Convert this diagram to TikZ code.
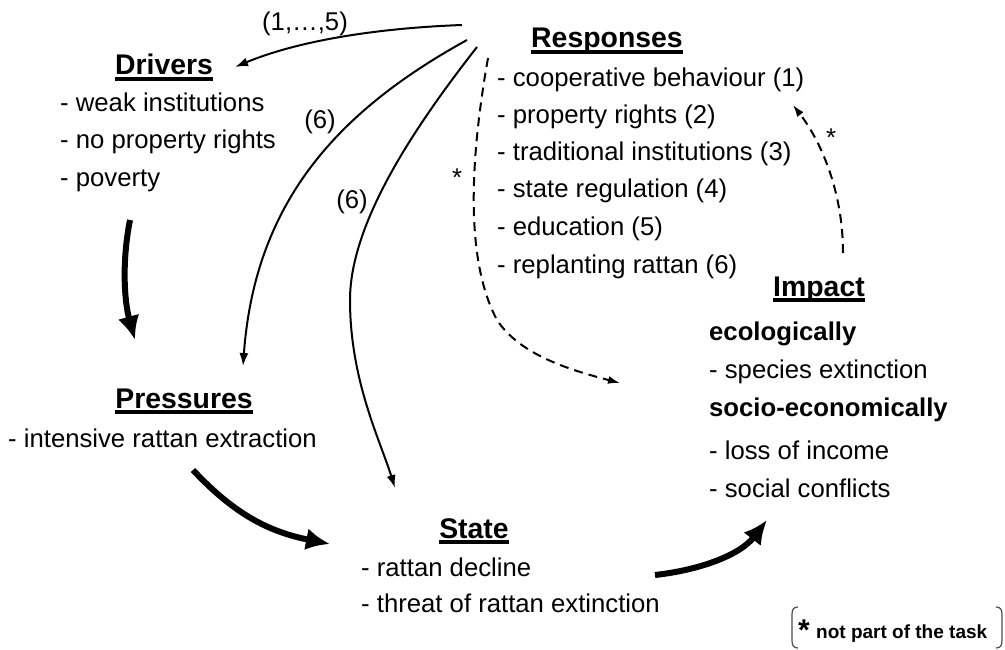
\documentclass[tikz,border=0pt]{standalone}
\usepackage{fontspec}
\setmainfont{Liberation Sans}
\usetikzlibrary{arrows.meta}
\begin{document}
\begin{tikzpicture}[x=1pt,y=-1pt,
  body/.style={font=\fontsize{25.7}{30}\selectfont, inner sep=0pt, anchor=base west},
  bodyb/.style={inner sep=0pt, anchor=base west, font=\fontsize{25.7}{30}\selectfont\bfseries},
  head/.style={font=\fontsize{28.4}{32}\selectfont\bfseries, inner sep=0pt, anchor=base},
  ul/.style={line width=3.5pt},
  thinarrow/.style={line width=2pt, -{Latex[length=13pt,width=9pt]}},
  dsh/.style={line width=2pt, dash pattern=on 9pt off 6pt, -{Latex[length=12pt,width=8pt]}},
  thickarrow/.style={line width=6pt, -{Latex[length=24pt,width=22pt]}},
  lbl/.style={font=\fontsize{25.7}{30}\selectfont, inner sep=0pt},
  brk/.style={line width=1.2pt, black!70},
]
\useasboundingbox (0,0) rectangle (1005,650);

% Drivers
\node[head] (dr) at (164,75) {Drivers};
\draw[ul] ([yshift=-4pt]dr.base west) -- ([yshift=-4pt]dr.base east);
\node[body] (dr1) at (60,112) {- weak institutions};
\node[body] (dr2) at (60,149) {- no property rights};
\node[body] (dr3) at (60,186) {- poverty};

% Responses
\node[head] (re) at (607,48) {Responses};
\draw[ul] ([yshift=-4pt]re.base west) -- ([yshift=-4pt]re.base east);
\node[body] (re1) at (497,87) {- cooperative behaviour (1)};
\node[body] (re2) at (497,124) {- property rights (2)};
\node[body] (re3) at (497,161) {- traditional institutions (3)};
\node[body] (re4) at (497,198) {- state regulation (4)};
\node[body] (re5) at (497,236) {- education (5)};
\node[body] (re6) at (497,273) {- replanting rattan (6)};

% Impact
\node[head] (im) at (819,296) {Impact};
\draw[ul] ([yshift=-4pt]im.base west) -- ([yshift=-4pt]im.base east);
\node[bodyb] (im1) at (709,340) {ecologically};
\node[body] (im2) at (709,378) {- species extinction};
\node[bodyb] (im3) at (709,416) {socio-economically};
\node[body] (im4) at (709,459) {- loss of income};
\node[body] (im5) at (709,497) {- social conflicts};

% Pressures
\node[head] (pr) at (184,408) {Pressures};
\draw[ul] ([yshift=-4pt]pr.base west) -- ([yshift=-4pt]pr.base east);
\node[body] (pr1) at (8,447) {- intensive rattan extraction};

% State
\node[head] (st) at (474,538) {State};
\draw[ul] ([yshift=-4pt]st.base west) -- ([yshift=-4pt]st.base east);
\node[body] (st1) at (361,576) {- rattan decline};
\node[body] (st2) at (361,612) {- threat of rattan extinction};

% connector end points
\coordinate (a1s) at (462,25);  \coordinate (a1e) at (235,67);
\coordinate (a2s) at (467,40);  \coordinate (a2e) at (243,366);
\coordinate (a3s) at (477,47);  \coordinate (a3m) at (350,300); \coordinate (a3e) at (395,488);
\coordinate (a4s) at (488,58);  \coordinate (a4m) at (497,320); \coordinate (a4e) at (620,383);
\coordinate (a5s) at (843,253); \coordinate (a5e) at (793,105);
\coordinate (t1s) at (130,220); \coordinate (t1e) at (135,340);
\coordinate (t2s) at (193,470); \coordinate (t2e) at (330,544);
\coordinate (t3s) at (655,575); \coordinate (t3e) at (767,520);

% thin arrows from Responses
\draw[thinarrow] (a1s) .. controls (380,28) and (300,40) .. (a1e);
\node[lbl] (l1) at (305,24) {(1,\dots,5)};
\draw[thinarrow] (a2s) .. controls (340,110) and (255,200) .. (a2e);
\node[lbl] (l2) at (320,122) {(6)};
\draw[thinarrow] (a3s) .. controls (420,120) and (350,220) .. (a3m)
  .. controls (350,380) and (380,440) .. (a3e);
\node[lbl] (l3) at (352,202) {(6)};

% dashed arrows
\draw[dsh] (a4s) .. controls (470,160) and (465,260) .. (a4m)
  .. controls (520,355) and (570,370) .. (a4e);
\node[lbl] (s1) at (457,178) {*};
\draw[dsh] (a5s) .. controls (843,190) and (820,140) .. (a5e);
\node[lbl] (s2) at (831,138) {*};

% thick arrows
\draw[thickarrow] (t1s) .. controls (122,260) and (124,300) .. (t1e);
\draw[thickarrow] (t2s) .. controls (235,515) and (270,532) .. (t2e);
\draw[thickarrow] (t3s) .. controls (700,570) and (740,555) .. (t3e);

% note
\node[font=\fontsize{30}{34}\selectfont\bfseries, inner sep=0pt, anchor=base] (ast) at (804,640) {*};
\node[font=\fontsize{19}{22}\selectfont\bfseries, inner sep=0pt, anchor=base west] (nt) at (816,638) {not part of the task};
\draw[brk] (798,607) .. controls (793,607) and (792,610) .. (792,615) -- (792,640) .. controls (792,645) and (793,648) .. (798,648);
\draw[brk] (996,607) .. controls (1001,607) and (1002,610) .. (1002,615) -- (1002,640) .. controls (1002,645) and (1001,648) .. (996,648);
\end{tikzpicture}
\end{document}
